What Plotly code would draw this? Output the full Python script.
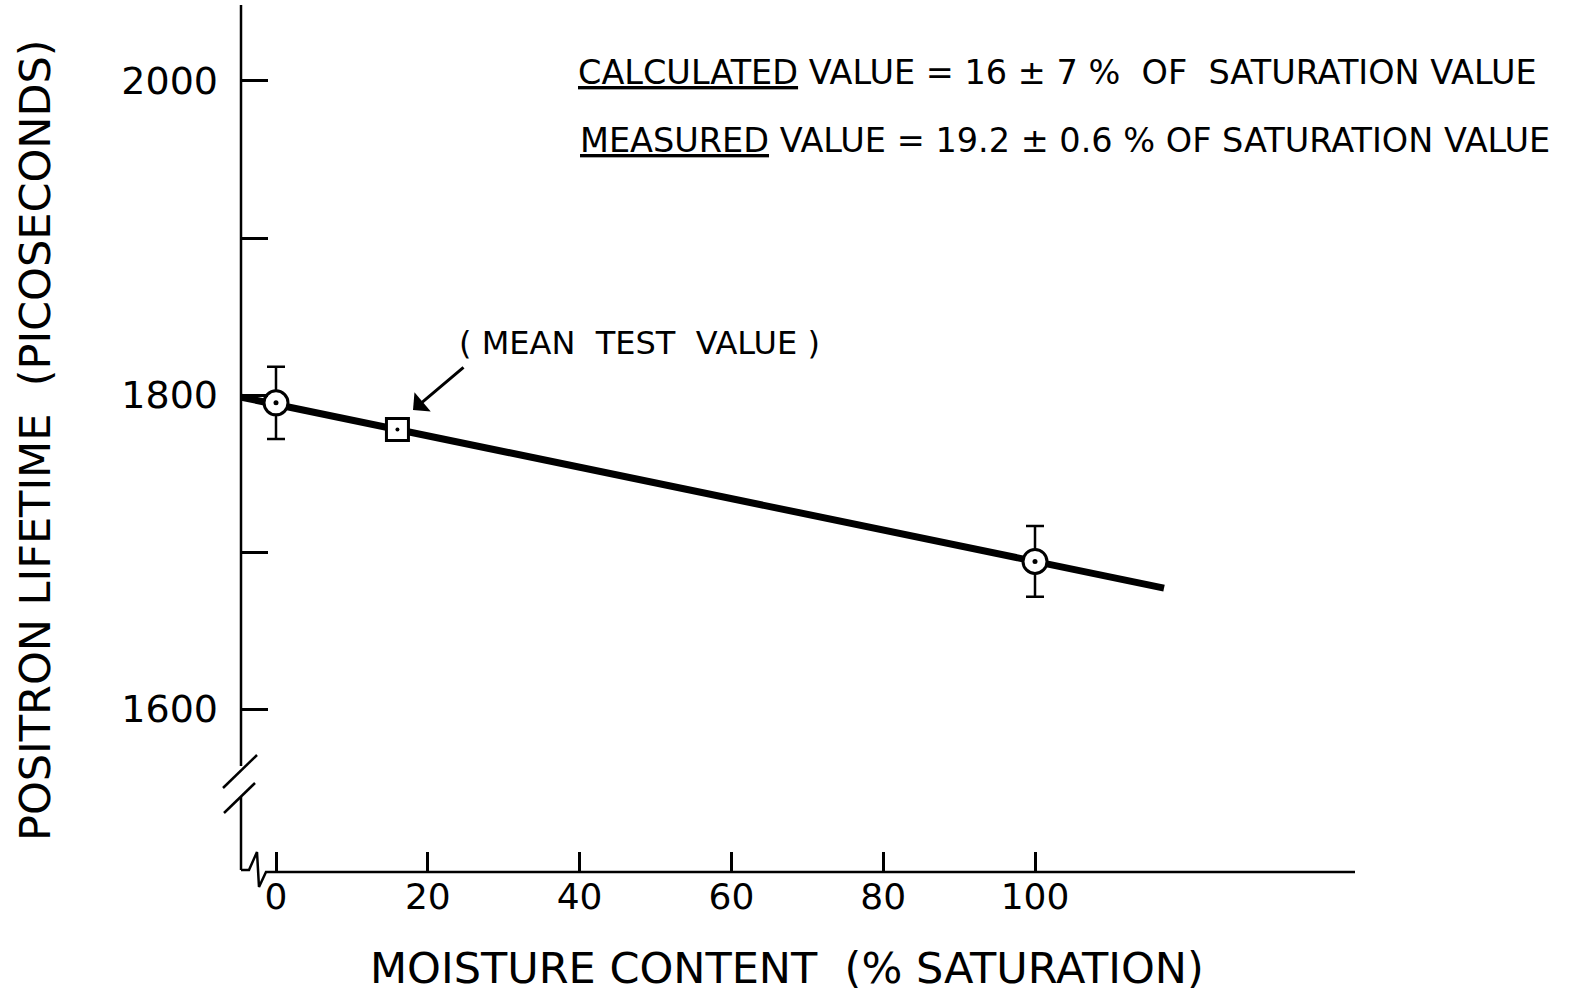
import plotly.graph_objects as go

# ---- data ----
moisture = [0, 100]
lifetime = [1795, 1694]
lifetime_err = [23, 22.5]
mean_test_x = [16]
mean_test_y = [1778]
fit_x = [-4.6, 117]
fit_y = [1798.6, 1677]
x_ticks = [0, 20, 40, 60, 80, 100]
x_ticklabels = ["0", "20", "40", "60", "80", "100"]
y_ticks = [1600, 1700, 1800, 1900, 2000]
y_ticklabels = ["1600", "", "1800", "", "2000"]

W, H = 1573, 999
L, R, T, B = 241, 1355, 5, 872
XR = [-4.611, 142.16]
YR = [1496.2, 2048.4]

FONT = "DejaVu Sans"


def px(x):
    return (x - L) / (R - L)


def py(y):
    return (B - y) / (B - T)


fig = go.Figure()

# fitted line
fig.add_trace(go.Scatter(x=fit_x, y=fit_y, mode="lines",
                         line=dict(color="black", width=7), hoverinfo="skip"))
# measured points with error bars
fig.add_trace(go.Scatter(
    x=moisture, y=lifetime, mode="markers",
    marker=dict(symbol="circle", size=24, color="white",
                line=dict(color="black", width=3)),
    error_y=dict(type="data", array=lifetime_err, visible=True,
                 color="black", thickness=2.5, width=9)))
fig.add_trace(go.Scatter(x=moisture, y=lifetime, mode="markers",
                         marker=dict(symbol="circle", size=5, color="black")))
# mean test value
fig.add_trace(go.Scatter(
    x=mean_test_x, y=mean_test_y, mode="markers",
    marker=dict(symbol="square", size=22, color="white",
                line=dict(color="black", width=3))))
fig.add_trace(go.Scatter(x=mean_test_x, y=mean_test_y, mode="markers",
                         marker=dict(symbol="circle", size=4, color="black")))

shapes = []
lw = 2.5


def seg(x0, y0, x1, y1, w=lw):
    shapes.append(dict(type="line", xref="paper", yref="paper",
                       x0=px(x0), y0=py(y0), x1=px(x1), y1=py(y1),
                       line=dict(color="black", width=w)))


seg(241, 5, 241, 766)
seg(223, 788, 257, 755)
seg(224, 813, 255, 783)
seg(241, 797, 241, 870)
pts = [(241, 870), (249, 870), (257, 852), (259, 887), (266, 872), (1355, 872)]
path = "M " + " L ".join(f"{px(a):.5f},{py(b):.5f}" for a, b in pts)
shapes.append(dict(type="path", xref="paper", yref="paper", path=path,
                   line=dict(color="black", width=lw)))


def note(x, y, text, size, **kw):
    d = dict(x=px(x), y=py(y), xref="paper", yref="paper", showarrow=False,
             text=text, xanchor="center", yanchor="middle",
             font=dict(size=size, color="black", family=FONT))
    d.update(kw)
    return d


annotations = [
    note(35, 440, "POSITRON LIFETIME\u00a0\u00a0(PICOSECONDS)", 43, textangle=-90),
    note(787, 968, "MOISTURE CONTENT\u00a0\u00a0(% SATURATION)", 43),
    note(576, 72,
         "<u>CALCULATED</u> VALUE = 16 ± 7 %\u00a0\u00a0OF\u00a0\u00a0SATURATION VALUE",
         33.5, xanchor="left"),
    note(578, 140,
         "<u>MEASURED</u>\u00a0VALUE = 19.2 ± 0.6 % OF SATURATION VALUE",
         33.5, xanchor="left"),
    note(639, 343, "( MEAN\u00a0\u00a0TEST\u00a0\u00a0VALUE )", 32),
    dict(x=18.05, y=1790.4, xref="x", yref="y", text="", showarrow=True,
         ax=52, ay=-44, arrowhead=1, arrowsize=1.4, arrowwidth=3,
         arrowcolor="black", standoff=0),
]

fig.update_layout(
    width=W, height=H,
    margin=dict(l=L, r=W - R, t=T, b=H - B),
    paper_bgcolor="white", plot_bgcolor="white",
    showlegend=False,
    shapes=shapes, annotations=annotations,
    font=dict(family=FONT, color="black"),
    xaxis=dict(range=XR, showgrid=False, zeroline=False, showline=False,
               tickvals=x_ticks, ticktext=x_ticklabels, ticks="inside",
               ticklen=20, tickwidth=2.5, tickcolor="black",
               tickfont=dict(size=36, family=FONT, color="black")),
    yaxis=dict(range=YR, showgrid=False, zeroline=False, showline=False,
               tickvals=y_ticks, ticktext=y_ticklabels, ticks="inside",
               ticklen=27, tickwidth=3, tickcolor="black",
               ticklabelstandoff=22,
               tickfont=dict(size=38, family=FONT, color="black")),
)

fig.write_html("out.html", config={"displayModeBar": False},
               post_script="document.body.style.margin='0';document.body.style.padding='0';")
